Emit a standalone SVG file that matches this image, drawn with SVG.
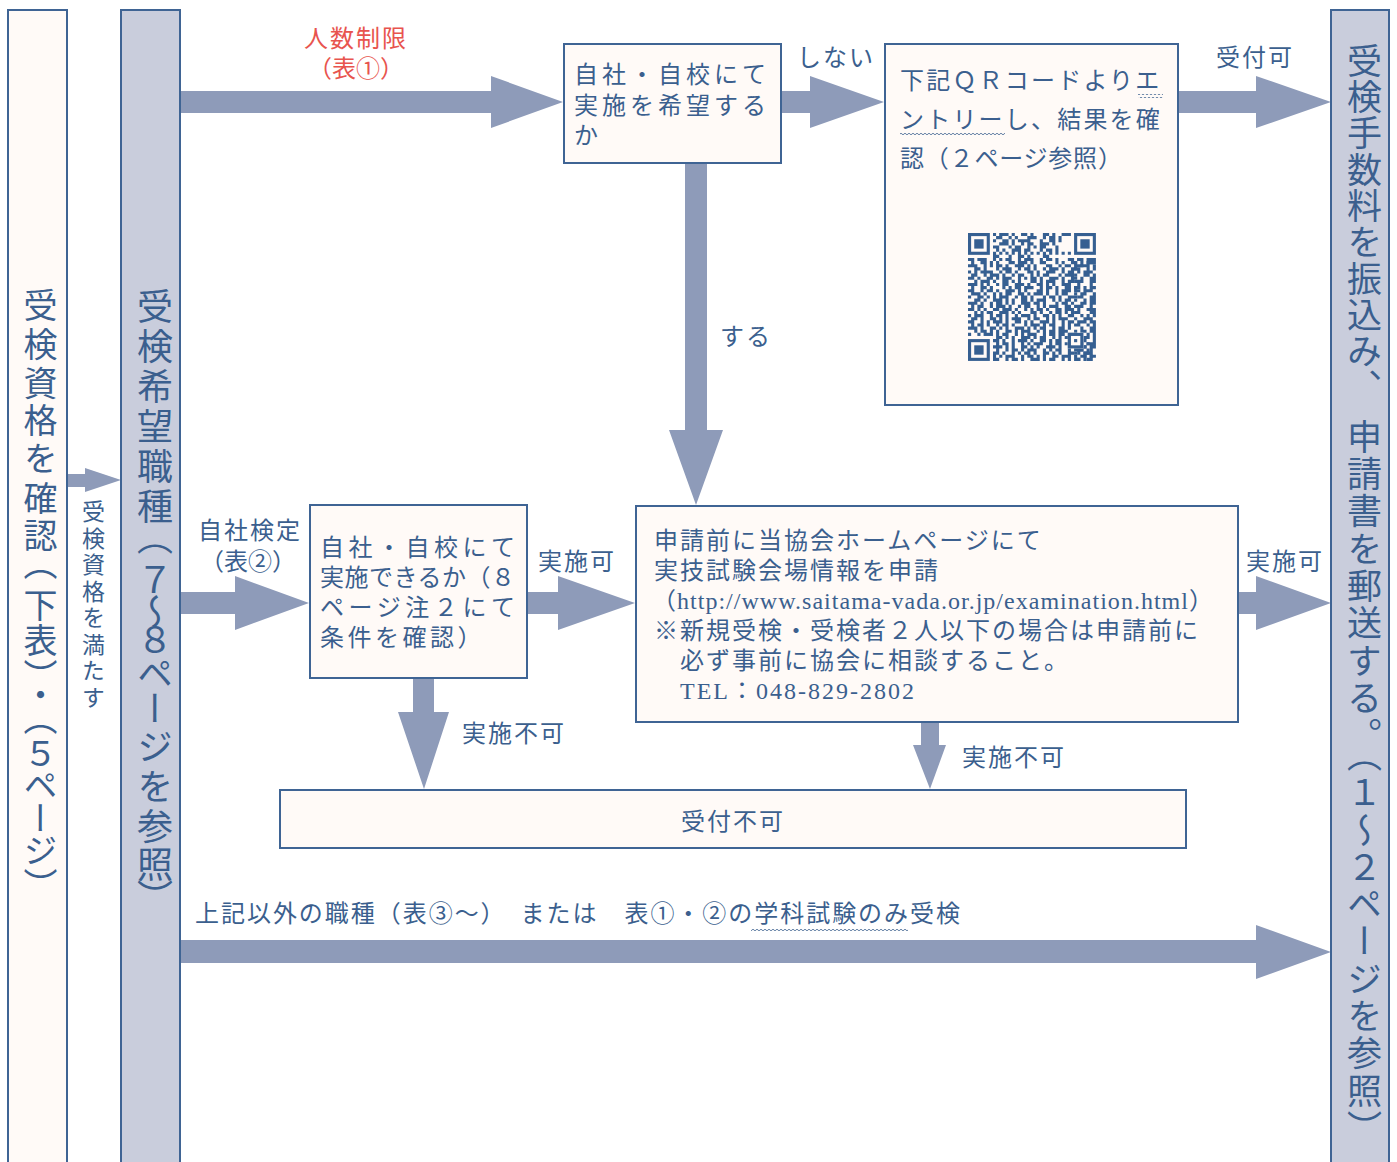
<svg xmlns="http://www.w3.org/2000/svg" width="1397" height="1162" viewBox="0 0 1397 1162">
<style>
.box{fill:#fffaf7;stroke:#3f6494;stroke-width:2}
.col{fill:#c9cddc;stroke:#3f6494;stroke-width:2}
.arr{fill:#8e9bb9}
.t{font-family:"Liberation Serif","Noto Sans CJK JP",serif;font-size:24px;fill:#3b5f8e}
.red{fill:#e8544e}
.v{writing-mode:vertical-rl}
.qr{fill:none;stroke:#365f91;stroke-width:1}
.qrf{fill:#365f91}
.qrw{fill:#fffaf7}
</style>
<defs>
<pattern id="wave" width="4" height="4" patternUnits="userSpaceOnUse"><path d="M0 2q1 -1.6 2 0t2 0" fill="none" stroke="#3b5f8e" stroke-width="0.8"/></pattern>
<clipPath id="qrclip"><rect x="0" y="0" width="41" height="41"/></clipPath>
</defs>
<rect width="1397" height="1162" fill="#ffffff"/>

<g id="connectors">
<polygon class="arr" points="67,474 85,474 85,468 121,480 85,492 85,487 67,487"/>
<polygon class="arr" points="181,91 491,91 491,76 563,102 491,128 491,113 181,113"/>
<polygon class="arr" points="782,91 810,91 810,76 884,102 810,128 810,113 782,113"/>
<polygon class="arr" points="1179,91 1256,91 1256,76 1331,102 1256,128 1256,113 1179,113"/>
<polygon class="arr" points="685,164 707,164 707,430 723,430 696,505 669,430 685,430"/>
<polygon class="arr" points="181,592 235,592 235,576 309,603 235,630 235,614 181,614"/>
<polygon class="arr" points="528,592 558,592 558,576 635,603 558,630 558,614 528,614"/>
<polygon class="arr" points="1239,592 1256,592 1256,576 1331,603 1256,630 1256,614 1239,614"/>
<polygon class="arr" points="413,679 434,679 434,712 449,712 424,789 398,712 413,712"/>
<polygon class="arr" points="921,723 939,723 939,745 946,745 930,789 913,745 921,745"/>
<polygon class="arr" points="181,940 1256,940 1256,925 1331,952 1256,979 1256,963 181,963"/>
<text class="t red" x="356" y="47" text-anchor="middle" letter-spacing="2">人数制限</text>
<text class="t red" x="356" y="77" text-anchor="middle">（表①）</text>
<text class="t" x="797" y="66" letter-spacing="2">しない</text>
<text class="t" x="1216" y="66" letter-spacing="2">受付可</text>
<text class="t" x="720" y="345" letter-spacing="2">する</text>
<text class="t" x="198" y="539" letter-spacing="2">自社検定</text>
<text class="t" x="248" y="570" text-anchor="middle">（表②）</text>
<text class="t" x="538" y="570" letter-spacing="2">実施可</text>
<text class="t" x="1246" y="570" letter-spacing="2">実施可</text>
<text class="t" x="462" y="742" letter-spacing="2">実施不可</text>
<text class="t" x="962" y="766" letter-spacing="2">実施不可</text>
<text class="t v" x="91" y="500" style="font-size:23px" letter-spacing="3.5">受検資格を満たす</text>
<text class="t" x="195" y="922" textLength="765" lengthAdjust="spacing">上記以外の職種（表③～）　または　表①・②の学科試験のみ受検</text>
<rect x="751" y="927" width="157" height="4" fill="url(#wave)"/>
</g>

<g id="col-qualify">
<rect class="box" x="8" y="10" width="59" height="1170"/>
<text class="t v" x="37.5" style="font-size:34px" y="288 327 366 403 441 481 518 546 588 623 659 678 701 737 768 801 833 868">受検資格を確認（下表）・（５ページ）</text>
</g>

<g id="col-job">
<rect class="col" x="121" y="10" width="59" height="1170"/>
<text class="t v" x="151" style="font-size:36px" y="288 328 368 408 448 488 519 562 594 622 655 690 728 768 808 846 879">受検希望職種（７～８ページを参照）</text>
</g>

<g id="col-pay">
<rect class="col" x="1331" y="10" width="58" height="1170"/>
<text class="t v" x="1360.5" y="43" style="font-size:35px" letter-spacing="1.3">受検手数料を振込み、</text>
<text class="t v" x="1360.5" y="419" style="font-size:35px" letter-spacing="2.3">申請書を郵送する。（１～２ページを参照）</text>
</g>

<g id="node-wish">
<rect class="box" x="564" y="44" width="217" height="119"/>
<text class="t" x="574" y="83" letter-spacing="4">自社・自校にて</text>
<text class="t" x="574" y="114" letter-spacing="4">実施を希望する</text>
<text class="t" x="574" y="144">か</text>
</g>

<g id="node-qr">
<rect class="box" x="885" y="44" width="293" height="361"/>
<text class="t" x="900" y="89" letter-spacing="2.2">下記ＱＲコードよりエ</text>
<text class="t" x="900" y="128" letter-spacing="2.2">ントリーし、結果を確</text>
<text class="t" x="900" y="167" letter-spacing="0.8">認（２ページ参照）</text>
<rect x="1138" y="94" width="25" height="4" fill="url(#wave)"/>
<rect x="900" y="132" width="105" height="4" fill="url(#wave)"/>
<g transform="translate(968,233) scale(3.12)">
<g clip-path="url(#qrclip)">
<path class="qr" d="M0 .5m8 0h1m1 0h3m1 0h1m2 0h2m1 0h1m3 0h2m1 0h1m2 0h3
M0 1.5m9 0h2m2 0h1m1 0h1m3 0h3m2 0h1m1 0h2m1 0h1
M0 2.5m8 0h1m2 0h2m1 0h1m1 0h4m3 0h1m2 0h2m1 0h1
M0 3.5m10 0h3m1 0h1m2 0h1m1 0h2m2 0h3m1 0h1
M0 4.5m8 0h2m3 0h1m1 0h2m2 0h1m1 0h1m1 0h2m3 0h1
M0 5.5m9 0h1m1 0h1m2 0h3m1 0h2m3 0h1m1 0h2m1 0h1
M0 6.5m8 0h1m1 0h1m1 0h1m1 0h1m1 0h1m1 0h1m1 0h1m1 0h1m1 0h1m1 0h1m1 0h1m1 0h1m1 0h1
M0 7.5m8 0h2m3 0h1m2 0h2m1 0h1m4 0h2
M0 8.5h2m1 0h3m2 0h1m1 0h1m1 0h2m2 0h1m1 0h3m2 0h1m1 0h2m1 0h1m3 0h2m1 0h1m2 0h3
M0 9.5m1 0h1m2 0h2m1 0h1m1 0h1m3 0h2m1 0h3m1 0h1m2 0h2m3 0h1m1 0h1m2 0h2m1 0h1m1 0h3
M0 10.5h3m2 0h1m1 0h1m1 0h2m1 0h1m2 0h3m1 0h1m1 0h1m3 0h2m2 0h1m1 0h2m1 0h3
M0 11.5m2 0h2m1 0h1m3 0h1m1 0h3m2 0h1m1 0h2m1 0h1m2 0h1m1 0h3m1 0h1m2 0h2
M0 12.5h1m1 0h1m1 0h4m2 0h1m1 0h2m1 0h1m3 0h2m1 0h1m2 0h3m2 0h1m1 0h2
M0 13.5m1 0h2m2 0h1m1 0h3m1 0h1m2 0h1m1 0h2m2 0h1m1 0h1m1 0h2m3 0h1m1 0h3
M0 14.5h2m1 0h1m2 0h2m1 0h1m1 0h3m2 0h1m1 0h1m1 0h2m1 0h1m2 0h3m1 0h1m2 0h2
M0 15.5m2 0h1m1 0h3m1 0h1m2 0h2m1 0h1m1 0h1m3 0h2m1 0h1m1 0h3m2 0h1m1 0h2
M0 16.5h3m1 0h1m1 0h1m2 0h1m1 0h2m2 0h3m1 0h1m2 0h2m1 0h1m1 0h1m2 0h3
M0 17.5m1 0h1m2 0h2m1 0h1m3 0h1m1 0h1m1 0h2m1 0h3m2 0h1m1 0h2m1 0h1m2 0h2m1 0h1
M0 18.5h2m2 0h1m1 0h2m1 0h1m2 0h3m1 0h1m1 0h1m3 0h2m1 0h1m2 0h1m1 0h3m1 0h2
M0 19.5m1 0h3m1 0h1m2 0h1m1 0h1m1 0h2m2 0h2m1 0h1m1 0h3m1 0h1m2 0h1m1 0h2
M0 20.5h1m2 0h2m1 0h1m1 0h1m1 0h3m2 0h1m1 0h2m1 0h1m3 0h1m1 0h2m1 0h1m2 0h3
M0 21.5m2 0h2m1 0h1m2 0h3m1 0h1m1 0h1m2 0h2m1 0h1m1 0h3m2 0h1m1 0h1m1 0h2
M0 22.5h3m1 0h1m2 0h1m1 0h2m1 0h1m1 0h1m2 0h3m1 0h2m1 0h1m3 0h1m1 0h2m1 0h1
M0 23.5m1 0h1m1 0h2m2 0h1m1 0h3m1 0h1m2 0h1m1 0h2m2 0h1m1 0h1m1 0h3m2 0h2
M0 24.5h2m1 0h1m1 0h1m2 0h2m1 0h3m1 0h1m2 0h1m1 0h1m1 0h2m1 0h1m2 0h2m1 0h3
M0 25.5m2 0h1m1 0h1m1 0h2m2 0h3m1 0h1m1 0h1m3 0h2m1 0h1m2 0h1m1 0h2m1 0h1m1 0h1
M0 26.5h1m1 0h3m2 0h1m1 0h2m1 0h1m2 0h1m1 0h3m1 0h1m2 0h2m1 0h1m1 0h1m2 0h2
M0 27.5m1 0h2m1 0h1m2 0h2m1 0h1m1 0h1m1 0h3m2 0h1m1 0h2m2 0h1m1 0h1m1 0h3
M0 28.5h2m2 0h1m1 0h1m1 0h3m1 0h1m2 0h2m1 0h1m1 0h1m2 0h3m1 0h1m2 0h1m1 0h2
M0 29.5m1 0h1m1 0h2m1 0h1m2 0h1m1 0h2m1 0h1m3 0h1m1 0h3m1 0h1m1 0h2m2 0h1m1 0h1
M0 30.5h3m1 0h1m2 0h2m1 0h1m1 0h1m2 0h3m1 0h1m1 0h1m1 0h2m2 0h1m1 0h2m1 0h1
M0 31.5m2 0h1m1 0h2m1 0h1m1 0h1m2 0h2m1 0h1m1 0h3m2 0h1m1 0h1m1 0h2m1 0h3
M0 32.5h1m2 0h1m1 0h3m1 0h1m1 0h2m2 0h1m1 0h1m1 0h3m2 0h1m1 0h2m1 0h2m1 0h3
M0 33.5m1 0h2m1 0h1m2 0h1m1 0h2m1 0h1m1 0h1m2 0h3m1 0h1m1 0h2m2 0h1m1 0h1m1 0h2
M0 34.5m8 0h2m1 0h1m2 0h1m1 0h3m1 0h1m2 0h2m1 0h1m1 0h2m2 0h1m1 0h3
M0 35.5m9 0h1m1 0h2m1 0h1m2 0h1m1 0h1m1 0h3m2 0h1m1 0h2m1 0h1m3 0h2m1 0h1
M0 36.5m8 0h3m1 0h1m1 0h1m2 0h2m1 0h1m1 0h1m2 0h3m1 0h1m2 0h1m1 0h2m1 0h1
M0 37.5m9 0h1m2 0h1m1 0h2m1 0h1m1 0h3m2 0h1m1 0h1m1 0h2m2 0h1m1 0h3m1 0h1
M0 38.5m8 0h2m1 0h1m2 0h1m1 0h1m1 0h2m1 0h1m2 0h2m1 0h1m1 0h1m2 0h2m1 0h1m1 0h2
M0 39.5m8 0h1m1 0h1m1 0h3m2 0h1m1 0h2m1 0h1m1 0h1m2 0h2m1 0h3m1 0h1m2 0h1m1 0h1
M0 40.5m8 0h2m2 0h1m1 0h2m1 0h1m2 0h3m1 0h1m1 0h2m2 0h1m1 0h1m1 0h2m1 0h1"/>
<path class="qr" d="M35 8.5h2m2 0h1M34 9.5h1m3 0h2M36 10.5h3m1 0h1M34 11.5h2m2 0h1m1 0h1M35 12.5h1m1 0h3M34 13.5h1m2 0h2m1 0h1M36 14.5h1m2 0h2M34 15.5h3m2 0h2M35 16.5h1m3 0h1M34 17.5h2m1 0h1m1 0h2M37 18.5h3M34 19.5h1m1 0h2m2 0h1M35 20.5h2m2 0h2M34 21.5h1m2 0h1m1 0h2M36 22.5h2m1 0h2M34 23.5h3m2 0h1M35 24.5h1m2 0h3M34 25.5h2m3 0h2M36 26.5h1m1 0h1m1 0h1M34 27.5h1m2 0h3M35 28.5h3m1 0h2M34 29.5h2m2 0h1m1 0h1M36 30.5h1m2 0h2M34 31.5h1m1 0h2m1 0h2M38 32.5h1m1 0h1M37 33.5h2m1 0h1M37 34.5h1m2 0h1M38 35.5h3M37 36.5h1m1 0h2M35 37.5h2m2 0h1M34 38.5h1m2 0h3M36 39.5h2m1 0h2M35 40.5h1m2 0h2"/>
</g>
<rect class="qrw" x="0" y="0" width="8" height="8"/>
<rect class="qrw" x="33" y="0" width="8" height="8"/>
<rect class="qrw" x="0" y="33" width="8" height="8"/>
<rect class="qrw" x="32" y="32" width="5" height="5"/>
<rect class="qr" x="0.5" y="0.5" width="6" height="6"/>
<rect class="qrf" x="2" y="2" width="3" height="3"/>
<rect class="qr" x="34.5" y="0.5" width="6" height="6"/>
<rect class="qrf" x="36" y="2" width="3" height="3"/>
<rect class="qr" x="0.5" y="34.5" width="6" height="6"/>
<rect class="qrf" x="2" y="36" width="3" height="3"/>
<rect class="qr" x="32.5" y="32.5" width="4" height="4"/>
<rect class="qrf" x="34" y="34" width="1" height="1"/>
</g>
</g>

<g id="node-own">
<rect class="box" x="310" y="505" width="217" height="173"/>
<text class="t" x="320" y="556" textLength="195" lengthAdjust="spacing">自社・自校にて</text>
<text class="t" x="320" y="586" textLength="195" lengthAdjust="spacing">実施できるか（８</text>
<text class="t" x="320" y="616" textLength="195" lengthAdjust="spacing">ページ注２にて</text>
<text class="t" x="320" y="646" letter-spacing="3.5">条件を確認）</text>
</g>

<g id="node-apply">
<rect class="box" x="636" y="506" width="602" height="216"/>
<text class="t" x="654" y="549" letter-spacing="2">申請前に当協会ホームページにて</text>
<text class="t" x="654" y="579" letter-spacing="2">実技試験会場情報を申請</text>
<text class="t" x="652" y="609" textLength="561" lengthAdjust="spacing">（http://www.saitama-vada.or.jp/examination.html）</text>
<text class="t" x="654" y="639" letter-spacing="2">※新規受検・受検者２人以下の場合は申請前に</text>
<text class="t" x="680" y="669" letter-spacing="2">必ず事前に協会に相談すること。</text>
<text class="t" x="680" y="699" letter-spacing="2">TEL：048-829-2802</text>
</g>

<g id="node-reject">
<rect class="box" x="280" y="790" width="906" height="58"/>
<text class="t" x="733" y="830" text-anchor="middle" letter-spacing="2">受付不可</text>
</g>
</svg>
